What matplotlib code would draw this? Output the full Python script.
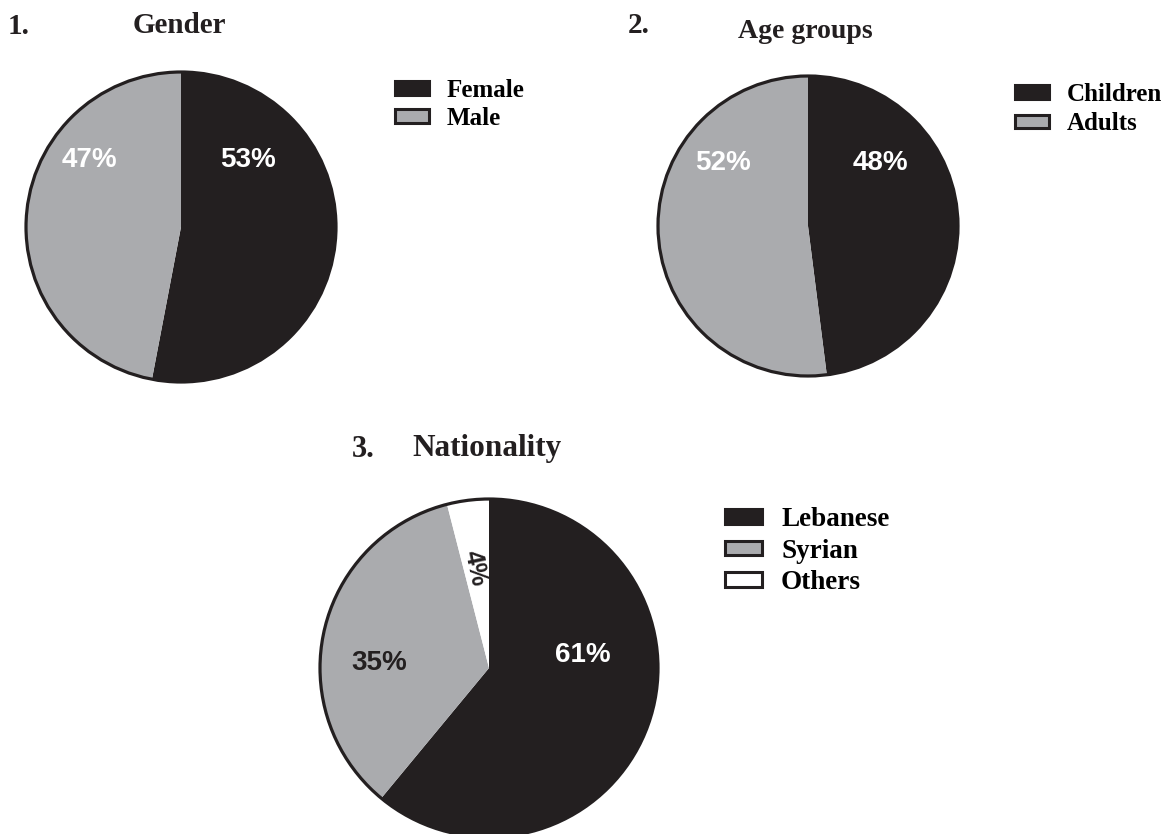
import matplotlib
matplotlib.use("Agg")
import matplotlib.pyplot as plt
from matplotlib.patches import Circle

W, H = 1169, 834

DARK = "#231f20"
GREY = "#aaabae"

gender_labels = ["Female", "Male"]
gender_values = [53, 47]

age_labels = ["Children", "Adults"]
age_values = [48, 52]

nat_labels = ["Lebanese", "Syrian", "Others"]
nat_values = [61, 35, 4]

SERIF = "Liberation Serif"
SANS = "Liberation Sans"

fig = plt.figure(figsize=(W / 100, H / 100), dpi=100)


def px(x, y):
    # pixel position (from top-left) -> figure fraction
    return x / W, 1 - y / H


def pie_axes(cx, cy, r):
    ax = fig.add_axes([(cx - r) / W, (H - cy - r) / H, 2 * r / W, 2 * r / H])
    return ax


def draw_pie(ax, values, colors, pct_style):
    wedges, _ = ax.pie(values, colors=colors, startangle=90, counterclock=False,
                       radius=1, wedgeprops=dict(linewidth=0))
    ax.add_patch(Circle((0, 0), 1, fill=False, edgecolor=DARK, linewidth=2.3,
                        clip_on=False))
    ax.set_xlim(-1, 1)
    ax.set_ylim(-1, 1)
    ax.set_aspect("equal")
    ax.axis("off")
    for v, (x, y, col, size, rot) in zip(values, pct_style):
        ax.text(x, y, f"{v}%", color=col, fontsize=size, fontweight="bold",
                family=SANS, ha="center", va="center", rotation=rot,
                rotation_mode="anchor")
    return wedges


def add_legend(wedges, labels, x, y, size, spacing):
    handles = [plt.Rectangle((0, 0), 1, 1, facecolor=w.get_facecolor(),
                             edgecolor=DARK, linewidth=2.2) for w in wedges]
    fx, fy = px(x, y)
    fig.legend(handles, labels, loc="upper left", bbox_to_anchor=(fx, fy),
               bbox_transform=fig.transFigure, frameon=False, borderpad=0,
               borderaxespad=0, handlelength=1.35, handleheight=0.45,
               handletextpad=0.72, labelspacing=spacing,
               prop=dict(family=SERIF, weight="bold", size=size))


def title(x, y, s, size):
    fx, fy = px(x, y)
    fig.text(fx, fy, s, family=SERIF, fontweight="bold", fontsize=size,
             color=DARK, ha="left", va="baseline")


# 1. Gender
ax1 = pie_axes(181, 227, 155)
w1 = draw_pie(ax1, gender_values, [DARK, GREY],
              [(0.43, 0.43, "white", 20, 0), (-0.59, 0.43, "white", 20, 0)])
add_legend(w1, gender_labels, 395, 79, 18, 0.2)
title(8, 34, "1.", 21)
title(133, 33, "Gender", 21)

# 2. Age groups
ax2 = pie_axes(808, 226, 150)
w2 = draw_pie(ax2, age_values, [DARK, GREY],
              [(0.48, 0.42, "white", 20, 0), (-0.57, 0.42, "white", 20, 0)])
add_legend(w2, age_labels, 1015, 83, 18, 0.25)
title(628, 33, "2.", 21)
title(738, 38, "Age groups", 20)

# 3. Nationality
ax3 = pie_axes(489, 668, 169)
w3 = draw_pie(ax3, nat_values, [DARK, GREY, "white"],
              [(0.555, 0.075, "white", 20, 0), (-0.65, 0.03, DARK, 20, 0),
               (-0.08, 0.59, DARK, 18, -78)])
add_legend(w3, nat_labels, 725, 507, 19.5, 0.24)
title(352, 457, "3.", 22)
title(412, 456, "Nationality", 22.5)

fig.savefig("out.png", dpi=100)
